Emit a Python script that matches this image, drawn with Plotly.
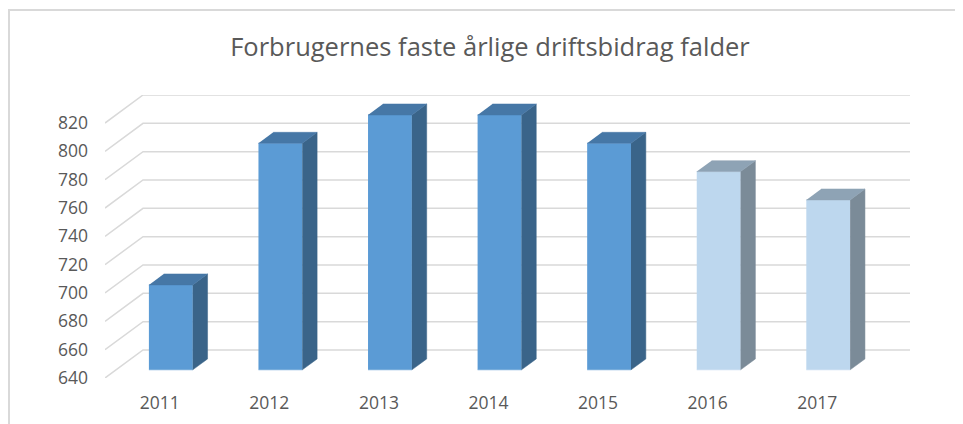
import plotly.graph_objects as go

# ---- data ----
years = ["2011", "2012", "2013", "2014", "2015", "2016", "2017"]
values = [700, 800, 820, 820, 800, 780, 760]
is_forecast = [False, False, False, False, False, True, True]
y_ticks = [640, 660, 680, 700, 720, 740, 760, 780, 800, 820]
title_text = "Forbrugernes faste årlige driftsbidrag falder"

# ---- geometry / style (not data) ----
W, H = 963, 424
OFF = 8  # page body margin around the plot div
ML, MR, MT, MB = 105 - OFF, W - (910 - OFF), 95 - OFF, H - (378 - OFF)
BASE = 640
DEPTH_X = 0.347      # category units of the 3-D depth
DEPTH_Y = 19.8       # value units of the 3-D depth
F0, F1 = 0.29, 0.68  # bar front/back depth fractions
HW = 0.20            # half bar width
GRID = "#D9D9D9"
TXT = "#595959"
COL = {False: ("#5B9BD5", "#3A6489", "#4677A6"),
       True: ("#BDD7EE", "#7B8B98", "#8EA3B5")}

n = len(years)
x_lo, x_hi = -0.5, n - 0.5 + DEPTH_X
y_lo, y_hi = BASE, y_ticks[-1] + DEPTH_Y

fig = go.Figure()

# gridlines (front-left diagonal + back wall)
gx, gy = [], []
for t in y_ticks:
    gx += [x_lo, x_lo + DEPTH_X, x_hi, None]
    gy += [t, t + DEPTH_Y, t + DEPTH_Y, None]
fig.add_trace(go.Scatter(x=gx, y=gy, mode="lines",
                         line=dict(color=GRID, width=1.5),
                         hoverinfo="skip", showlegend=False))

# 3-D bars
for i, (v, fc) in enumerate(zip(values, is_forecast)):
    front_c, side_c, top_c = COL[fc]
    x0 = i + F0 * DEPTH_X - HW
    x1 = i + F0 * DEPTH_X + HW
    yb = BASE + F0 * DEPTH_Y
    yt = v + F0 * DEPTH_Y
    ddx = (F1 - F0) * DEPTH_X
    ddy = (F1 - F0) * DEPTH_Y
    faces = [
        ([x0, x1, x1, x0], [yb, yb, yt, yt], front_c),
        ([x1, x1 + ddx, x1 + ddx, x1], [yb, yb + ddy, yt + ddy, yt], side_c),
        ([x0, x1, x1 + ddx, x0 + ddx], [yt, yt, yt + ddy, yt + ddy], top_c),
    ]
    for fx, fy, c in faces:
        fig.add_trace(go.Scatter(x=fx, y=fy, mode="lines", fill="toself",
                                 fillcolor=c, line=dict(width=0.5, color=c),
                                 hovertemplate=f"{years[i]}: {v}<extra></extra>",
                                 showlegend=False))

pw = W - ML - MR
ph = H - MT - MB
bx = (1 - ML) / pw
by = (H - MB - (10 - OFF)) / ph

fig.update_layout(
    width=W, height=H,
    margin=dict(l=ML, r=MR, t=MT, b=MB),
    paper_bgcolor="white", plot_bgcolor="white",
    font=dict(family="Open Sans", color=TXT, size=17.5),
    title=dict(text=title_text, x=(490 - OFF) / W, xref="container",
               xanchor="center", y=1 - (47 - OFF) / H, yref="container",
               yanchor="middle",
               font=dict(family="Open Sans", size=25.5, color=TXT)),
    xaxis=dict(range=[x_lo, x_hi], tickmode="array", tickvals=list(range(n)),
               ticktext=years, showgrid=False, zeroline=False, showline=False,
               ticks="", ticklabelstandoff=12, fixedrange=True),
    yaxis=dict(range=[y_lo, y_hi], tickmode="array", tickvals=y_ticks,
               ticktext=[str(t) for t in y_ticks], showgrid=False,
               zeroline=False, showline=False, ticks="",
               ticklabelstandoff=16, fixedrange=True),
    shapes=[dict(type="path", xref="paper", yref="paper",
                 path=f"M {bx},-0.5 L {bx},{by} L 1.2,{by}",
                 line=dict(color=GRID, width=2))],
)

fig.write_html("out.html")
